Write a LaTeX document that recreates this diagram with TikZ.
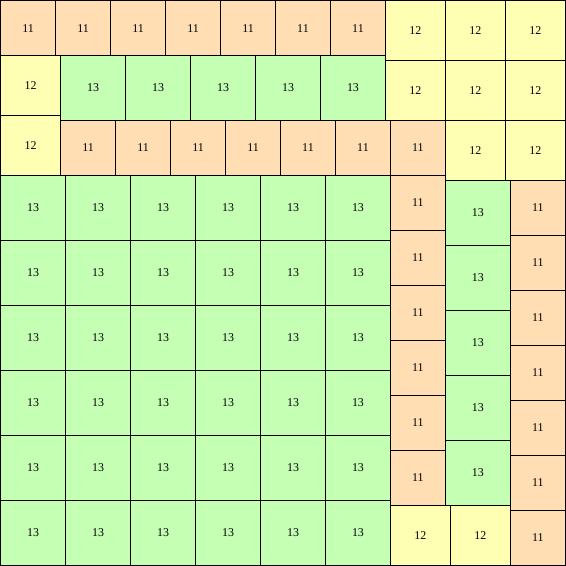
\documentclass[tikz,border=0pt]{standalone}
\usepackage{fontspec}
\setmainfont{Liberation Serif}
\usepackage{tikz}

\definecolor{peach}{HTML}{FFDEB4}
\definecolor{lemon}{HTML}{FFFFB4}
\definecolor{mint}{HTML}{C4FFB4}

\begin{document}
\begin{tikzpicture}[
    x=1mm, y=-1mm,
    sq/.style={draw, line width=0.6pt, inner sep=0pt, outer sep=0pt, anchor=north west, font=\fontsize{6.8}{8}\selectfont},
    eleven/.style={sq, minimum size=11mm, fill=peach},
    twelve/.style={sq, minimum size=12mm, fill=lemon},
    thirteen/.style={sq, minimum size=13mm, fill=mint}
]
\useasboundingbox (-0.12,-0.12) rectangle (113.12,113.12);

% top band
\foreach \i in {0,...,6}
    \node[eleven] (top\i) at (11*\i,0) {11};
\foreach \i in {0,1,2}
    \node[twelve] (tr\i) at (77+12*\i,0) {12};

\node[twelve] (left0) at (0,11) {12};
\foreach \i in {0,...,4}
    \node[thirteen] (mid\i) at (12+13*\i,11) {13};
\foreach \i in {0,1,2}
    \node[twelve] (mr\i) at (77+12*\i,12) {12};

\node[twelve] (left1) at (0,23) {12};
\foreach \i in {0,...,6}
    \node[eleven] (row\i) at (12+11*\i,24) {11};
\foreach \i in {0,1}
    \node[twelve] (br\i) at (89+12*\i,24) {12};

% big block of 13s
\foreach \i in {0,...,5}
    \foreach \j in {0,...,5}
        \node[thirteen] (g\i\j) at (13*\i,35+13*\j) {13};

% right columns
\foreach \j in {0,...,5}
    \node[eleven] (ca\j) at (78,35+11*\j) {11};
\foreach \i in {0,1}
    \node[twelve] (bot\i) at (78+12*\i,101) {12};
\foreach \j in {0,...,4}
    \node[thirteen] (cb\j) at (89,36+13*\j) {13};
\foreach \j in {0,...,6}
    \node[eleven] (cc\j) at (102,36+11*\j) {11};
\end{tikzpicture}
\end{document}
